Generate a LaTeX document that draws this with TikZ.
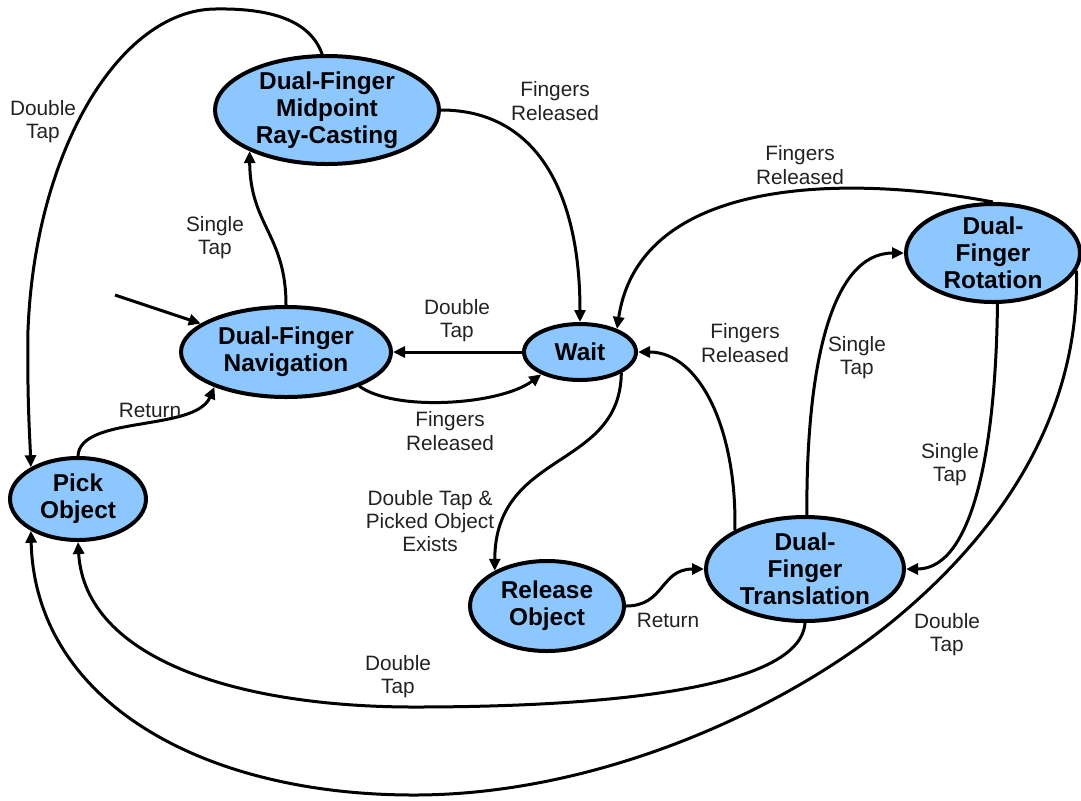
\documentclass[tikz,border=0pt]{standalone}
\usepackage{fontspec}
\setmainfont{Liberation Sans}
\usetikzlibrary{shapes.geometric,arrows.meta}
\definecolor{statefill}{RGB}{140,200,255}
\definecolor{lbltext}{RGB}{34,34,34}
\begin{document}
\begin{tikzpicture}[x=0.5pt, y=-0.5pt,
        state/.style={ellipse, draw, line width=2pt, fill=statefill, inner sep=0pt},
        statetext/.style={font=\bfseries\fontsize{12.2}{13.4}\selectfont, align=center, inner sep=0pt},
        edge/.style={line width=1.5pt, -{Triangle[length=6pt,width=5.5pt]}},
        lbl/.style={font=\fontsize{10.4}{11.6}\selectfont, align=center, text=lbltext, inner sep=0pt}]
        \useasboundingbox (0,0) rectangle (1081,800);

        % States
        \node[state, minimum width=112pt, minimum height=54pt,
            label={[statetext]center:{Dual-Finger\\Midpoint\\Ray-Casting}}] (raycast) at (327,110) {};
        \node[state, minimum width=105pt, minimum height=45pt,
            label={[statetext]center:{Dual-Finger\\Navigation}}] (nav) at (286,352) {};
        \node[state, minimum width=56pt, minimum height=28pt,
            label={[statetext]center:{Wait}}] (wait) at (580,352) {};
        \node[state, minimum width=68pt, minimum height=41pt,
            label={[statetext]center:{Pick\\Object}}] (pick) at (78,499) {};
        \node[state, minimum width=77pt, minimum height=45pt,
            label={[statetext]center:{Release\\Object}}] (release) at (547,606) {};
        \node[state, minimum width=99pt, minimum height=52pt,
            label={[statetext]center:{Dual-\\Finger\\Translation}}] (transl) at (805,569) {};
        \node[state, minimum width=87pt, minimum height=49pt,
            label={[statetext]center:{Dual-\\Finger\\Rotation}}] (rot) at (993,253) {};

        % Entry
        \coordinate (entry) at (115,295);
        \draw[edge] (entry) -- (nav);

        % Navigation / ray-casting / wait
        \draw[edge] (nav.north) .. controls (286,235) and (250,225) .. (raycast.208);
        \node[lbl] at (215,238) {Single\\Tap};
        \draw[edge] (raycast.east) .. controls (535,110) and (580,190) .. (wait.north);
        \node[lbl] at (555,101) {Fingers\\Released};
        \draw[edge] (raycast.95) .. controls (310,20) and (270,8) .. (215,9)
            .. controls (120,10) and (35,150) .. (28,330)
            .. controls (27,400) and (30,440) .. (pick.146);
        \node[lbl] at (43,122) {Double\\Tap};
        \draw[edge] (wait.west) -- (nav.east);
        \node[lbl] at (457,321) {Double\\Tap};
        \draw[edge] (nav.335) .. controls (395,412) and (500,405) .. (wait.210);
        \node[lbl] at (450,431) {Fingers\\Released};
        \draw[edge] (pick.north) .. controls (80,415) and (195,432) .. (nav.206);
        \node[lbl] at (150,410) {Return};

        % Object handling
        \draw[edge] (wait.333) .. controls (620,470) and (495,450) .. (release.146);
        \node[lbl] at (430,521) {Double Tap \&\\Picked Object\\Exists};
        \draw[edge] (release.east) .. controls (665,606) and (660,569) .. (transl.west);
        \node[lbl] at (668,620) {Return};

        % Translation / rotation
        \draw[edge] (transl.151) .. controls (737,430) and (700,352) .. (wait.east);
        \node[lbl] at (745,343) {Fingers\\Released};
        \draw[edge] (transl.88) .. controls (806,370) and (830,253) .. (rot.west);
        \node[lbl] at (857,358) {Single\\Tap};
        \draw[edge] (rot.275) .. controls (996,440) and (975,569) .. (transl.east);
        \node[lbl] at (950,465) {Single\\Tap};
        \draw[edge] (rot.north) .. controls (850,175) and (640,175) .. (wait.32);
        \node[lbl] at (800,165) {Fingers\\Released};

        % Back to picking
        \draw[edge] (transl.south) .. controls (800,690) and (600,707) .. (414,707)
            .. controls (240,707) and (85,660) .. (pick.south);
        \node[lbl] at (398,677) {Double\\Tap};
        \draw[edge] (rot.348) .. controls (1080,420) and (995,535) .. (900,615)
            .. controls (790,708) and (600,795) .. (414,795)
            .. controls (200,795) and (35,700) .. (pick.214);
        \node[lbl] at (947,635) {Double\\Tap};
    \end{tikzpicture}
\end{document}
